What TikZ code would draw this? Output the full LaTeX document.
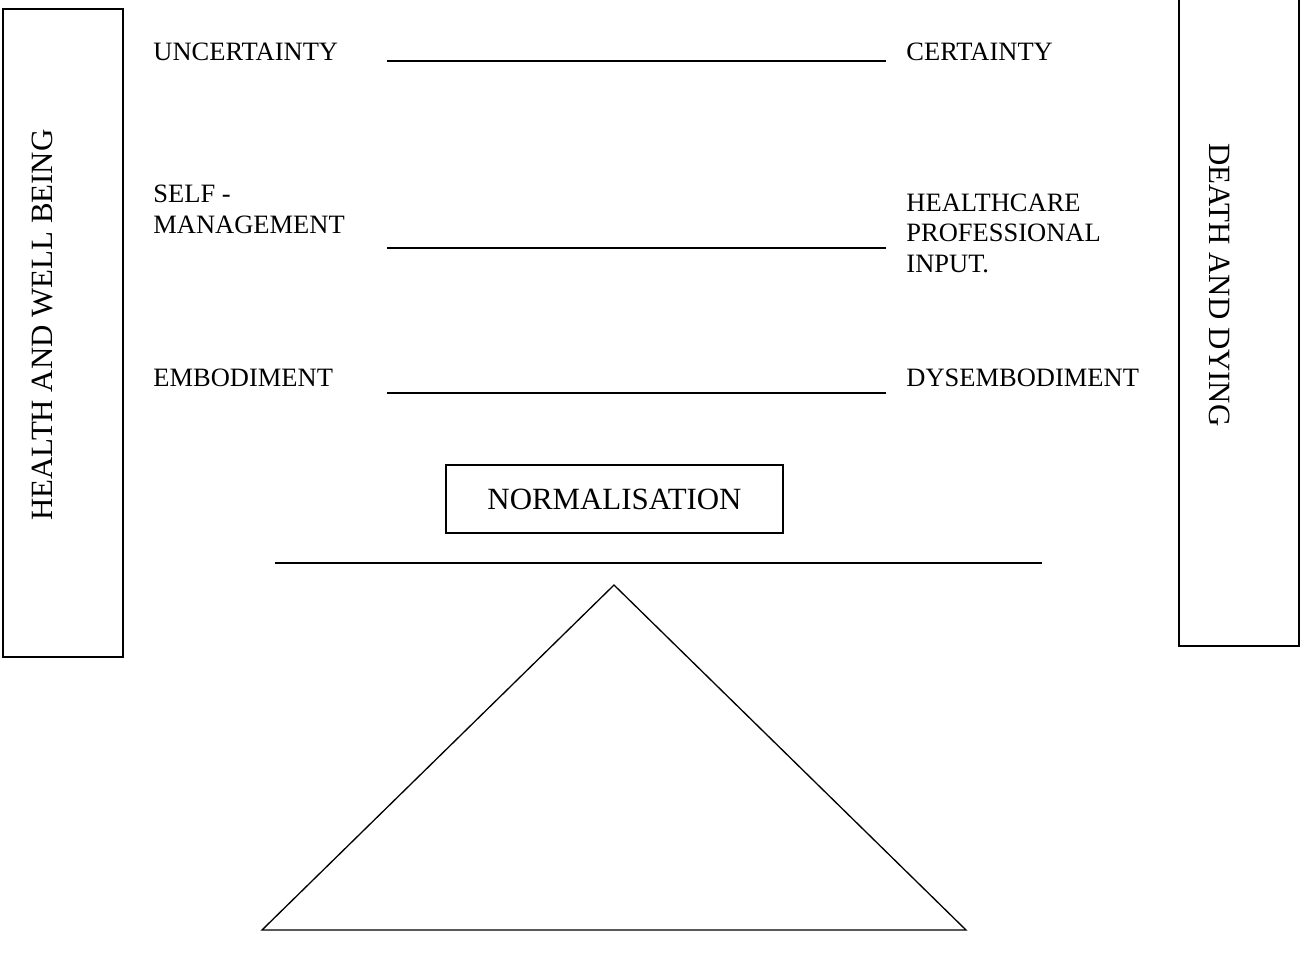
\documentclass[tikz,border=0pt]{standalone}
\usepackage{fontspec}
\setmainfont{Liberation Serif}
\newcommand{\scaleline}[1]% y of the line
{(387,#1) -- (886,#1)
}
\tikzset{
  pole/.style={anchor=base west,inner sep=0pt,align=left,
    font=\fontsize{12}{13.6}\selectfont},
  sidetext/.style={inner sep=0pt,font=\fontsize{14}{17}\selectfont}
}

\begin{document}
\begin{tikzpicture}[x=0.453pt,y=-0.453pt]
  \useasboundingbox (0,0) rectangle (1301,959);
  % side boxes
  \draw[line width=0.9pt] (3,9) rectangle (123,657);
  \draw[line width=0.9pt] (1179,-10) rectangle (1299,646);
  \node[sidetext,rotate=90] (health) at (43,325) {HEALTH AND WELL BEING};
  \node[sidetext,rotate=-90] (death) at (1220,285) {DEATH AND DYING};
  % the three scales
  \foreach \y in {61,248,393}
    \draw[line width=0.9pt] \scaleline{\y};
  \node[pole] (uncert) at (153,60) {UNCERTAINTY};
  \node[pole] (cert) at (906,60) {CERTAINTY};
  \node[pole] (selfman) at (153,233) {SELF -\\MANAGEMENT};
  \node[pole] (hcp) at (906,272) {HEALTHCARE\\PROFESSIONAL\\INPUT.};
  \node[pole] (embod) at (153,386) {EMBODIMENT};
  \node[pole] (dysembod) at (906,386) {DYSEMBODIMENT};
  % balance
  \node[draw,line width=0.9pt,minimum width=152.7pt,minimum height=30.8pt,
    inner sep=0pt,font=\fontsize{14}{17}\selectfont] (norm) at (614.5,499) {NORMALISATION};
  \draw[line width=0.9pt] (275,563) -- (1042,563);
  \draw[line width=0.6pt] (614,585) -- (966,930) -- (262,930) -- cycle;
\end{tikzpicture}
\end{document}
